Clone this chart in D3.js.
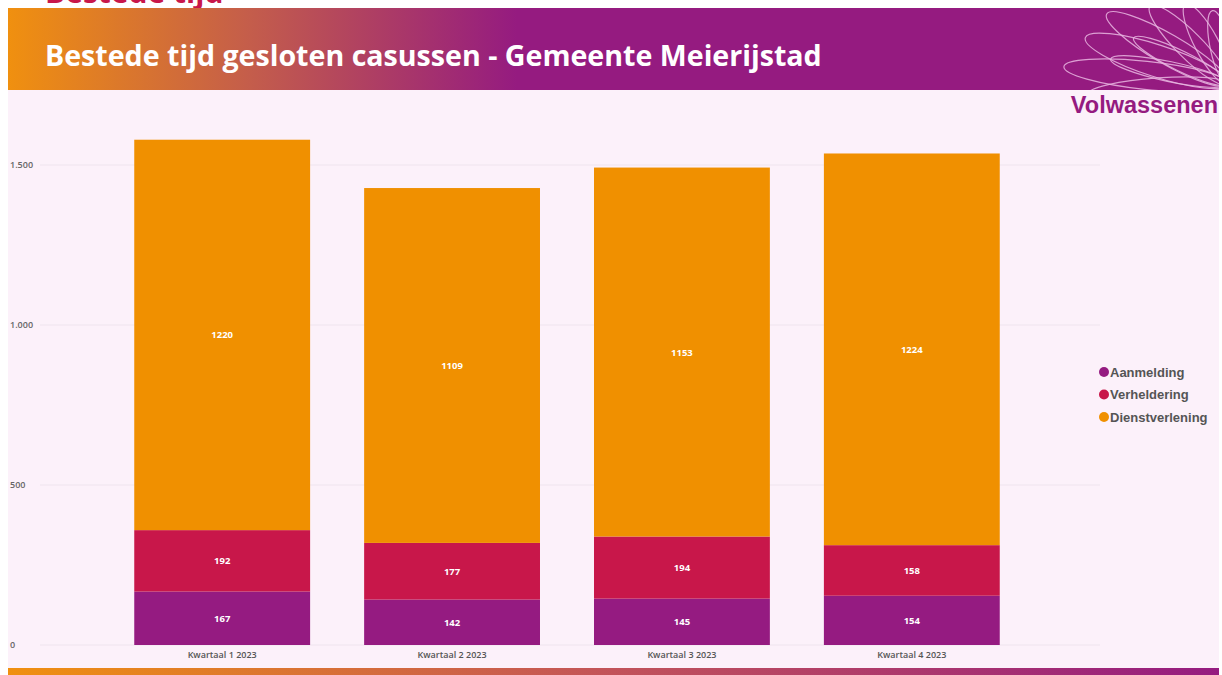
<!DOCTYPE html>
<html>
<head>
<meta charset="utf-8">
<script src="https://cdn.jsdelivr.net/npm/d3@7"></script>
<style>
  body { margin: 0; background: #ffffff; }
  svg { display: block; }
</style>
</head>
<body>
<script>
// data
var categories = ["Kwartaal 1 2023", "Kwartaal 2 2023", "Kwartaal 3 2023", "Kwartaal 4 2023"];
var seriesNames = ["Aanmelding", "Verheldering", "Dienstverlening"];
var aanmelding = [167, 142, 145, 154];
var verheldering = [192, 177, 194, 158];
var dienstverlening = [1220, 1109, 1153, 1224];
var yTicks = [0, 500, 1000, 1500];
var yTickLabels = ["0", "500", "1.000", "1.500"];
var colours = ["#951b81", "#c8174a", "#f09000"];

var width = 1222;
var height = 675;

var svg = d3.select("body")
    .append("svg")
    .attr("width", width)
    .attr("height", height);

var defs = svg.append("defs");

// header gradient
var grad = defs.append("linearGradient")
    .attr("id", "headGrad")
    .attr("x1", "0%").attr("x2", "100%")
    .attr("y1", "0%").attr("y2", "0%");
grad.append("stop").attr("offset", "0%").attr("stop-color", "#f0900f");
grad.append("stop").attr("offset", "20%").attr("stop-color", "#c45d4b");
grad.append("stop").attr("offset", "42%").attr("stop-color", "#951b80");
grad.append("stop").attr("offset", "100%").attr("stop-color", "#951b80");

var grad2 = defs.append("linearGradient")
    .attr("id", "footGrad")
    .attr("x1", "0%").attr("x2", "100%");
grad2.append("stop").attr("offset", "0%").attr("stop-color", "#f0900f");
grad2.append("stop").attr("offset", "50%").attr("stop-color", "#c2535a");
grad2.append("stop").attr("offset", "100%").attr("stop-color", "#951b80");

defs.append("clipPath").attr("id", "topClip")
    .append("rect").attr("x", 0).attr("y", 0).attr("width", width).attr("height", 8);

// cut off text of the slide above
svg.append("g")
    .attr("clip-path", "url(#topClip)")
    .append("text")
    .attr("x", 45)
    .attr("y", 3)
    .style("font-family", "'Open Sans', sans-serif")
    .style("font-weight", "bold")
    .style("font-size", "30px")
    .style("fill", "#c8174a")
    .text("Bestede tijd");

// panel background
svg.append("rect")
    .attr("x", 8).attr("y", 8)
    .attr("width", 1211).attr("height", 667)
    .attr("fill", "#fcf1fa");

// header
svg.append("rect")
    .attr("x", 8).attr("y", 8)
    .attr("width", 1211).attr("height", 82)
    .attr("fill", "url(#headGrad)");

// flower decoration
defs.append("clipPath").attr("id", "headClip")
    .append("rect").attr("x", 8).attr("y", 8).attr("width", 1211).attr("height", 82);
var flower = svg.append("g").attr("clip-path", "url(#headClip)")
    .append("g")
    .attr("transform", "translate(1228,84)");
// petals: angle, length, half width
var petals = [[-6, 165, 14], [-18, 150, 16], [-30, 140, 15], [-45, 110, 13], [-62, 90, 12], [4, 140, 11], [-12, 120, 10], [-26, 105, 10], [-78, 75, 10]];
petals.forEach(function(p) {
    flower.append("ellipse")
        .attr("cx", -p[1] / 2)
        .attr("cy", 0)
        .attr("rx", p[1] / 2)
        .attr("ry", p[2])
        .attr("transform", "rotate(" + (-p[0]) + ")")
        .attr("fill", "none")
        .attr("stroke", "#e9b6e0")
        .attr("stroke-width", 1.2)
        .attr("opacity", 0.85);
});

// title
svg.append("text")
    .attr("x", 45)
    .attr("y", 66)
    .style("font-family", "'Open Sans', sans-serif")
    .style("font-weight", "bold")
    .style("font-size", "28.6px")
    .style("fill", "#ffffff")
    .text("Bestede tijd gesloten casussen - Gemeente Meierijstad");

svg.append("text")
    .attr("x", 1218)
    .attr("y", 113)
    .attr("text-anchor", "end")
    .style("font-family", "'Liberation Sans', Arial, sans-serif")
    .style("font-weight", "bold")
    .style("font-size", "23.5px")
    .style("fill", "#951b80")
    .text("Volwassenen");

// footer strip
svg.append("rect")
    .attr("x", 8).attr("y", 668)
    .attr("width", 1211).attr("height", 7)
    .attr("fill", "url(#footGrad)");

// scales
var x = d3.scaleBand()
    .domain(categories)
    .range([40, 1094])
    .paddingInner(0.235)
    .paddingOuter(0.41);

var y = d3.scaleLinear()
    .domain([0, 1500])
    .range([645, 165]);

// gridlines
svg.append("g")
    .selectAll("line")
    .data(yTicks)
    .enter().append("line")
    .attr("x1", 40)
    .attr("x2", 1100)
    .attr("y1", function(d) { return y(d); })
    .attr("y2", function(d) { return y(d); })
    .attr("stroke", "#efe4ee")
    .attr("stroke-width", 1);

// y tick labels
svg.append("g")
    .selectAll("text")
    .data(yTicks)
    .enter().append("text")
    .attr("x", 10)
    .attr("y", function(d) { return y(d) + 3; })
    .style("font-family", "'Open Sans', sans-serif")
    .style("font-weight", "600")
    .style("font-size", "9px")
    .style("fill", "#666")
    .text(function(d, i) { return yTickLabels[i]; });

// stacked data
var rows = categories.map(function(c, i) {
    return { cat: c, Aanmelding: aanmelding[i], Verheldering: verheldering[i], Dienstverlening: dienstverlening[i] };
});
var stacked = d3.stack().keys(seriesNames)(rows);

var layer = svg.append("g")
    .selectAll("g")
    .data(stacked)
    .enter().append("g")
    .attr("fill", function(d, i) { return colours[i]; });

layer.selectAll("rect")
    .data(function(d) { return d; })
    .enter().append("rect")
    .attr("x", function(d) { return x(d.data.cat); })
    .attr("width", x.bandwidth())
    .attr("y", function(d) { return y(d[1]); })
    .attr("height", function(d) { return y(d[0]) - y(d[1]); });

layer.selectAll("text")
    .data(function(d) { return d; })
    .enter().append("text")
    .attr("x", function(d) { return x(d.data.cat) + x.bandwidth() / 2; })
    .attr("y", function(d) { return (y(d[0]) + y(d[1])) / 2 + 3.5; })
    .attr("text-anchor", "middle")
    .style("font-family", "'Open Sans', sans-serif")
    .style("font-weight", "bold")
    .style("font-size", "9.5px")
    .style("fill", "#ffffff")
    .text(function(d) { return d[1] - d[0]; });

// x labels
svg.append("g")
    .selectAll("text")
    .data(categories)
    .enter().append("text")
    .attr("x", function(d) { return x(d) + x.bandwidth() / 2; })
    .attr("y", 658)
    .attr("text-anchor", "middle")
    .style("font-family", "'Open Sans', sans-serif")
    .style("font-weight", "600")
    .style("font-size", "9px")
    .style("fill", "#555")
    .text(function(d) { return d; });

// legend
var legend = svg.append("g")
    .selectAll("g")
    .data(seriesNames)
    .enter().append("g")
    .attr("transform", function(d, i) { return "translate(1104," + (372 + i * 22.5) + ")"; });

legend.append("circle")
    .attr("r", 5)
    .attr("fill", function(d, i) { return colours[i]; });

legend.append("text")
    .attr("x", 6)
    .attr("y", 4.5)
    .style("font-family", "'Liberation Sans', Arial, sans-serif")
    .style("font-weight", "bold")
    .style("font-size", "13px")
    .style("fill", "#555")
    .text(function(d) { return d; });
</script>
</body>
</html>
